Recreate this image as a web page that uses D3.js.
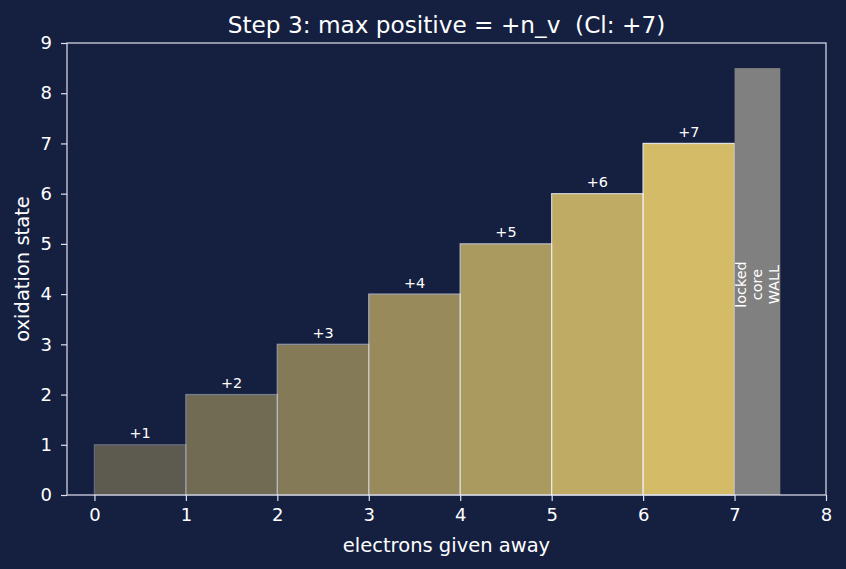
<!DOCTYPE html>
<html>
<head>
<meta charset="utf-8">
<script src="https://cdn.jsdelivr.net/npm/d3@7"></script>
<style>
  body { margin: 0; background: #152041; }
  text { font-family: "DejaVu Sans", sans-serif; white-space: pre; }
</style>
</head>
<body>
<svg id="chart" width="846" height="569"></svg>
<script>
// electrons given away -> oxidation state
const electrons = [1, 2, 3, 4, 5, 6, 7];
const states = [1, 2, 3, 4, 5, 6, 7];
const stateLabels = ["+1", "+2", "+3", "+4", "+5", "+6", "+7"];
const wall = { from: 7, to: 7.5, height: 8.5, lines: ["locked", "core", "WALL"] };
const xTicks = [0, 1, 2, 3, 4, 5, 6, 7, 8];
const yTicks = [0, 1, 2, 3, 4, 5, 6, 7, 8, 9];

const width = 846, height = 569;
const margin = { top: 43, right: 20, bottom: 74, left: 67 };
const fg = "#dfe2ef";

const svg = d3.select( "#chart" );

const x = d3.scaleLinear()
  .domain( [ -0.3, 8 ] )
  .range( [ margin.left, width - margin.right ] );

const y = d3.scaleLinear()
  .domain( [ 0, 9 ] )
  .range( [ height - margin.bottom, margin.top ] );

const alpha = d3.scaleLinear().domain( [ 1, 7 ] ).range( [ 0.34, 0.9 ] );

// bars
svg.selectAll( "rect.step" )
  .data( electrons )
  .enter().append( "rect" )
    .attr( "class", "step" )
    .attr( "x", d => x( d - 1 ) )
    .attr( "y", (d, i) => y( states[ i ] ) )
    .attr( "width", d => x( d ) - x( d - 1 ) )
    .attr( "height", (d, i) => y( 0 ) - y( states[ i ] ) )
    .attr( "fill", "#e8cc6c" )
    .attr( "stroke", "#f6f6f6" )
    .attr( "stroke-width", 1.3 )
    .attr( "opacity", d => alpha( d ) );

svg.selectAll( "text.stepLabel" )
  .data( electrons )
  .enter().append( "text" )
    .attr( "class", "stepLabel" )
    .attr( "x", d => x( d - 0.5 ) )
    .attr( "y", (d, i) => y( states[ i ] ) - 6.5 )
    .attr( "text-anchor", "middle" )
    .attr( "fill", "#ffffff" )
    .style( "font-size", "14.4px" )
    .text( (d, i) => stateLabels[ i ] );

// core wall
svg.append( "rect" )
  .attr( "x", x( wall.from ) )
  .attr( "y", y( wall.height ) )
  .attr( "width", x( wall.to ) - x( wall.from ) )
  .attr( "height", y( 0 ) - y( wall.height ) )
  .attr( "fill", "#808080" );

const wx = x( ( wall.from + wall.to ) / 2 ), wy = y( wall.height / 2 ) + 3;
const wallText = svg.append( "text" )
  .attr( "transform", `translate(${wx},${wy}) rotate(-90)` )
  .attr( "text-anchor", "middle" )
  .attr( "fill", "#ffffff" )
  .style( "font-size", "14.4px" );
wall.lines.forEach( (l, i) => {
  wallText.append( "tspan" )
    .attr( "x", 0 )
    .attr( "y", ( i - 1 ) * 16.6 + 5 )
    .text( l );
} );

// axes
const xAxis = svg.append( "g" )
  .attr( "transform", `translate(0,${y( 0 )})` )
  .call( d3.axisBottom( x ).tickValues( xTicks ).tickSize( 6 ).tickPadding( 11 ) );
const yAxis = svg.append( "g" )
  .attr( "transform", `translate(${x( -0.3 )},0)` )
  .call( d3.axisLeft( y ).tickValues( yTicks ).tickSize( 6 ).tickPadding( 9 ) );

[ xAxis, yAxis ].forEach( a => {
  a.select( ".domain" ).remove();
  a.selectAll( "line" ).attr( "stroke", fg ).attr( "stroke-width", 1.2 );
  a.selectAll( "text" ).attr( "fill", "#ffffff" ).style( "font-size", "18px" )
    .style( "font-family", "DejaVu Sans, sans-serif" );
} );
xAxis.selectAll( "text" ).attr( "dy", "0" ).attr( "y", 6 + 7 + 12.9 );

// frame
svg.append( "rect" )
  .attr( "x", x( -0.3 ) )
  .attr( "y", y( 9 ) )
  .attr( "width", x( 8 ) - x( -0.3 ) )
  .attr( "height", y( 0 ) - y( 9 ) )
  .attr( "fill", "none" )
  .attr( "stroke", fg )
  .attr( "stroke-width", 1.2 );

// labels
svg.append( "text" )
  .attr( "x", ( x( -0.3 ) + x( 8 ) ) / 2 )
  .attr( "y", 33 )
  .attr( "text-anchor", "middle" )
  .attr( "fill", "#ffffff" )
  .style( "font-size", "23.2px" )
  .text( "Step 3: max positive = +n_v  (Cl: +7)" );

svg.append( "text" )
  .attr( "x", ( x( -0.3 ) + x( 8 ) ) / 2 )
  .attr( "y", 552 )
  .attr( "text-anchor", "middle" )
  .attr( "fill", "#ffffff" )
  .style( "font-size", "19.5px" )
  .text( "electrons given away" );

svg.append( "text" )
  .attr( "transform", `translate(28.5,${( y( 0 ) + y( 9 ) ) / 2}) rotate(-90)` )
  .attr( "text-anchor", "middle" )
  .attr( "fill", "#ffffff" )
  .style( "font-size", "19.5px" )
  .text( "oxidation state" );
</script>
</body>
</html>
